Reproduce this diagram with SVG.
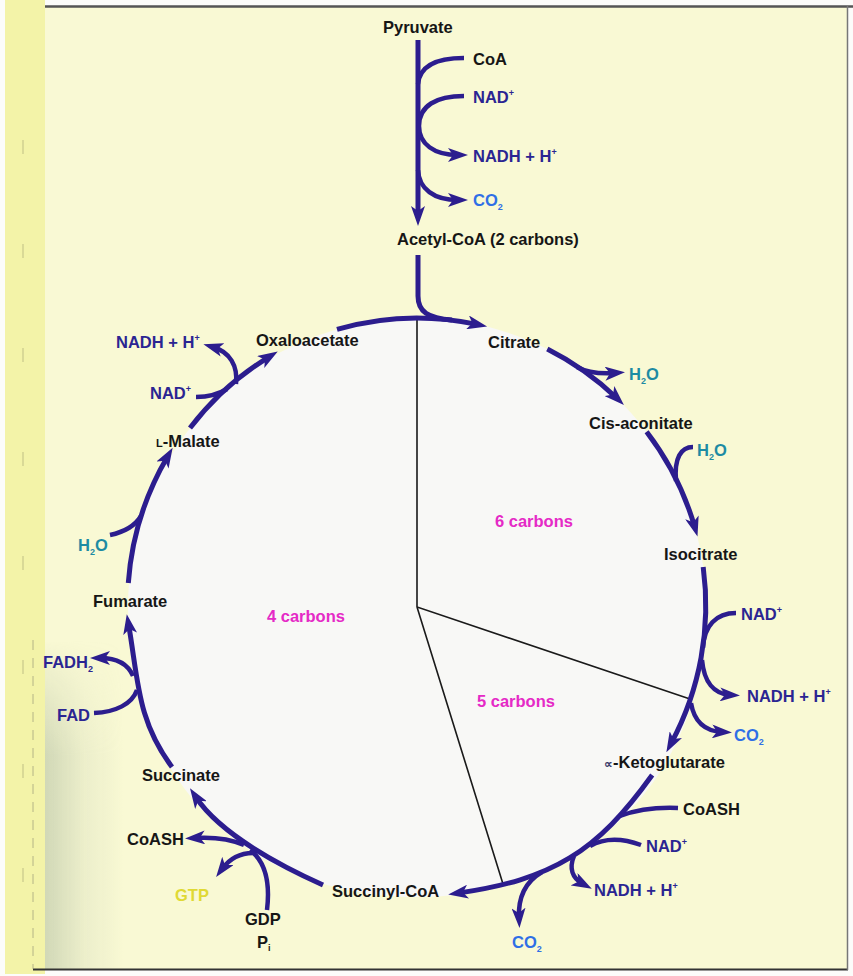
<svg xmlns="http://www.w3.org/2000/svg" width="853" height="976" viewBox="0 0 853 976">
<defs>
<marker id="ah" viewBox="0 0 20 14" refX="10" refY="7" markerWidth="20" markerHeight="14" markerUnits="userSpaceOnUse" orient="auto"><path d="M0,0 L20,7 L0,14 L5,7 Z" fill="#2c1d8e"/></marker>
<linearGradient id="shade" x1="0" y1="0" x2="1" y2="0"><stop offset="0" stop-color="#a9b79a" stop-opacity="0.5"/><stop offset="0.5" stop-color="#a9b79a" stop-opacity="0.15"/><stop offset="1" stop-color="#a9b79a" stop-opacity="0"/></linearGradient>
<linearGradient id="shadeV" x1="0" y1="0" x2="0" y2="1"><stop offset="0" stop-color="#fff" stop-opacity="0"/><stop offset="0.35" stop-color="#fff" stop-opacity="1"/><stop offset="1" stop-color="#fff" stop-opacity="1"/></linearGradient>
<mask id="mv"><rect x="45" y="640" width="80" height="330" fill="url(#shadeV)"/></mask>
<style>
.t{font-family:"Liberation Sans",Arial,Helvetica,sans-serif;font-weight:bold;font-size:16.5px}
.k{fill:#161616}.b{fill:#2b2592}.c{fill:#2f6fe6}.w{fill:#1d8ba3}.m{fill:#e52ac6}.y{fill:#e0d934}
.s{font-size:9px}
.a{fill:none;stroke:#2c1d8e;stroke-width:5}
.br{fill:none;stroke:#2c1d8e;stroke-width:4.5}
.e{marker-end:url(#ah)}
.dv{fill:none;stroke:#1a1a1a;stroke-width:1.6}
</style>
</defs>
<rect width="853" height="976" fill="#fcfcfa"/>
<rect x="5" y="0" width="40" height="974" fill="#f3f3a8"/>
<rect x="45" y="7" width="802" height="962" fill="#f9f9d4"/>
<rect x="45" y="640" width="80" height="329" fill="url(#shade)" mask="url(#mv)"/>
<line x1="45" y1="6.5" x2="853" y2="6.5" stroke="#555" stroke-width="2.5"/>
<line x1="33" y1="969.5" x2="848" y2="969.5" stroke="#333" stroke-width="2"/>
<line x1="847.5" y1="6" x2="847.5" y2="970" stroke="#777" stroke-width="1.5"/>
<line x1="33" y1="640" x2="33" y2="969" stroke="#8a8a70" stroke-width="1" stroke-dasharray="10 8" opacity="0.6"/>
<line x1="23" y1="140" x2="23" y2="940" stroke="#c9c98c" stroke-width="1.2" stroke-dasharray="14 90"/>
<path id="disk" d="M417 318 A289 289 0 0 1 706 607 C706 776.7 586.1 897 417 897 C246.2 897 128 778.4 128 607 A289 289 0 0 1 417 318 Z" fill="#f8f8f6"/>
<g id="dividers">
<path class="dv" d="M417 320 L417 607 L690 699 M417 607 L503 884"/>
</g>
<g id="connectors">
<path class="a e" d="M418 40 L418 216"/>
<path class="br" d="M464 58 C440 58 420 64 418 84"/>
<path class="br e" d="M464 96 C436 96 419 106 419 126 C419 144 434 155 458 155"/>
<path class="br e" d="M418 170 C419 189 434 200 458 200"/>
<path class="a" d="M418 255 L418 296 C418 312 428 318 452 320"/>
<path class="a e" d="M337 329.3 A289 289 0 0 1 477.3 324.4"/>
<path class="a e" d="M547.3 349 A289 289 0 0 1 616.7 398"/>
<path class="br e" d="M577 367 C588 373 600 374 615 373"/>
<path class="a e" d="M646.6 431.7 A289 289 0 0 1 694.7 527"/>
<path class="br" d="M693 447 C681 447 674 458 676 481"/>
<path class="a e" d="M703.2 567 A291 291 0 0 1 671.1 743.4"/>
<path class="br" d="M736 613 C716 613 704 626 703 648"/>
<path class="br e" d="M702 660 C704 682 714 694 730 695"/>
<path class="br e" d="M691 703 C694 721 704 731 722 732"/>
<path class="a e" d="M652.2 775 C596.8 852.3 552.1 879.5 458.1 893.1"/>
<path class="br" d="M678 808 C654 807 636 810 620 816"/>
<path class="br" d="M641 845 C622 838 604 838 590 846"/>
<path class="br e" d="M574 856 C569 868 572 878 583 884"/>
<path class="br e" d="M542 872 C525 882 518 898 519 918"/>
<path class="a e" d="M323 885 C282 866.6 220.3 834.3 195.5 796.7"/>
<path class="br e" d="M244 845 C228 838 212 837 195 838"/>
<path class="br e" d="M256 853 C240 852 230 858 222 869"/>
<path class="br" d="M267 910 C270 885 266 862 250 850"/>
<path class="a e" d="M172 767 C137.2 720.6 138.4 681.1 128.5 624"/>
<path class="br e" d="M133 676 C128 664 118 658 100 658"/>
<path class="br" d="M94 713 C116 712 132 704 137 690"/>
<path class="a e" d="M128.3 583 A292 292 0 0 1 167.6 456.4"/>
<path class="br" d="M110 535 C124 532 135 526 141 516"/>
<path class="a e" d="M190 428 A289 289 0 0 1 269.2 356.8"/>
<path class="br" d="M196 397 C210 397 219 394 227 389"/>
<path class="br e" d="M236 384 C238 366 230 352 213 347"/>
</g>
<g id="pyruvate"><text class="t k" x="383" y="33">Pyruvate</text></g>
<g id="coa-top"><text class="t k" x="473" y="65">CoA</text></g>
<g id="nad-top"><text class="t b" x="473" y="103">NAD<tspan class="s" dy="-7">+</tspan></text></g>
<g id="nadh-top"><text class="t b" x="473" y="162">NADH + H<tspan class="s" dy="-7">+</tspan></text></g>
<g id="co2-top"><text class="t c" x="473" y="206">CO<tspan class="s" dy="4">2</tspan></text></g>
<g id="acetylcoa"><text class="t k" x="397" y="245">Acetyl-CoA (2 carbons)</text></g>
<g id="citrate"><text class="t k" x="488" y="348">Citrate</text></g>
<g id="h2o-1"><text class="t w" x="629" y="380">H<tspan class="s" dy="4">2</tspan><tspan dy="-4">O</tspan></text></g>
<g id="cisaconitate"><text class="t k" x="589" y="429">Cis-aconitate</text></g>
<g id="h2o-2"><text class="t w" x="697" y="456">H<tspan class="s" dy="4">2</tspan><tspan dy="-4">O</tspan></text></g>
<g id="isocitrate"><text class="t k" x="664" y="560">Isocitrate</text></g>
<g id="nad-iso"><text class="t b" x="741" y="620">NAD<tspan class="s" dy="-7">+</tspan></text></g>
<g id="nadh-iso"><text class="t b" x="747" y="702">NADH + H<tspan class="s" dy="-7">+</tspan></text></g>
<g id="co2-iso"><text class="t c" x="734" y="741">CO<tspan class="s" dy="4">2</tspan></text></g>
<g id="ketoglutarate"><text class="t k" x="604" y="768"><tspan style="font-size:12px;fill:#3a3a6a">∝</tspan>-Ketoglutarate</text></g>
<g id="coash-kg"><text class="t k" x="683" y="815">CoASH</text></g>
<g id="nad-kg"><text class="t b" x="646" y="852">NAD<tspan class="s" dy="-7">+</tspan></text></g>
<g id="nadh-kg"><text class="t b" x="594" y="896">NADH + H<tspan class="s" dy="-7">+</tspan></text></g>
<g id="co2-kg"><text class="t c" x="512" y="948">CO<tspan class="s" dy="4">2</tspan></text></g>
<g id="succinylcoa"><text class="t k" x="332" y="897">Succinyl-CoA</text></g>
<g id="coash-sc"><text class="t k" x="127" y="845">CoASH</text></g>
<g id="gtp"><text class="t y" x="175" y="901">GTP</text></g>
<g id="gdp"><text class="t k" x="245" y="925">GDP</text><text class="t k" x="257" y="948">P<tspan class="s" dy="3">i</tspan></text></g>
<g id="succinate"><text class="t k" x="142" y="781">Succinate</text></g>
<g id="fadh2"><text class="t b" x="43" y="668">FADH<tspan class="s" dy="4">2</tspan></text></g>
<g id="fad"><text class="t b" x="57" y="721">FAD</text></g>
<g id="fumarate"><text class="t k" x="93" y="607">Fumarate</text></g>
<g id="h2o-3"><text class="t w" x="78" y="551">H<tspan class="s" dy="4">2</tspan><tspan dy="-4">O</tspan></text></g>
<g id="malate"><text class="t k" x="156" y="447"><tspan style="font-size:11px">L</tspan>-Malate</text></g>
<g id="nad-mal"><text class="t b" x="150" y="399">NAD<tspan class="s" dy="-7">+</tspan></text></g>
<g id="nadh-mal"><text class="t b" x="116" y="348">NADH + H<tspan class="s" dy="-7">+</tspan></text></g>
<g id="oxaloacetate"><text class="t k" x="256" y="346">Oxaloacetate</text></g>
<g id="carbons6"><text class="t m" x="495" y="527">6 carbons</text></g>
<g id="carbons4"><text class="t m" x="267" y="622">4 carbons</text></g>
<g id="carbons5"><text class="t m" x="477" y="707">5 carbons</text></g>
</svg>
